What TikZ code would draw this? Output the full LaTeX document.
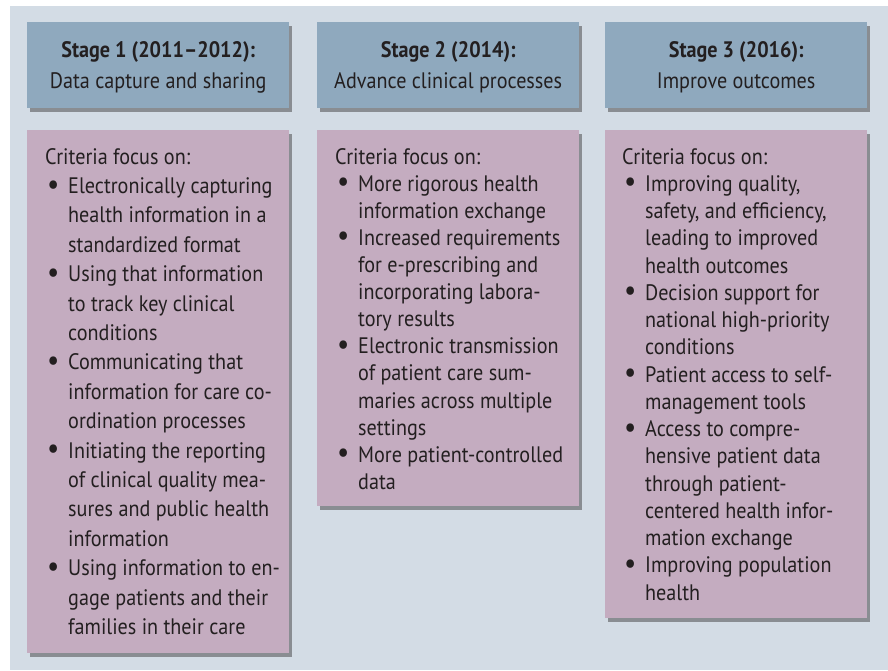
\documentclass[tikz,border=0pt]{standalone}
\usepackage{fontspec}
\setmainfont{PT Sans}[FakeStretch=0.9]
\usetikzlibrary{shadows}
\definecolor{bgcol}{RGB}{211,220,229}
\definecolor{hdcol}{RGB}{143,169,190}
\definecolor{crcol}{RGB}{196,172,192}
\definecolor{ink}{RGB}{35,31,32}
\newcommand{\itm}[1]{\makebox[23pt][l]{\hspace{2pt}\raisebox{-0.5pt}{\scalebox{1.35}{\textbullet}}}#1}
\newcommand{\cnt}[1]{\hspace*{23pt}#1}
\begin{document}
\begin{tikzpicture}[x=1pt,y=-1pt]
	\tikzset{box/.style={fill=#1, inner sep=0pt, anchor=north west, minimum width=262pt,
			drop shadow={shadow xshift=3pt, shadow yshift=-3.5pt, opacity=0.5, fill=black!75}},
		hdr/.style={inner sep=0pt, align=center, text=ink, font=\fontsize{22.4}{31}\selectfont},
		txt/.style={inner sep=0pt, anchor=north west, align=left, text=ink, font=\fontsize{22.4}{#1}\selectfont}};

	\useasboundingbox (0,0) rectangle (888,670);
	\fill[bgcol] (10,6) rectangle (888,670);

	\node[box=hdcol, minimum height=86pt] (h1) at (27,22) {};
	\node[box=hdcol, minimum height=86pt] (h2) at (317,22) {};
	\node[box=hdcol, minimum height=86pt] (h3) at (605,22) {};

	\node[hdr] (s1) at ([yshift=-2.5pt]h1.center) {\textbf{Stage 1 (2011–2012):}\\Data capture and sharing};
	\node[hdr] (s2) at ([yshift=-2.5pt]h2.center) {\textbf{Stage 2 (2014):}\\Advance clinical processes};
	\node[hdr] (s3) at ([yshift=-2.5pt]h3.center) {\textbf{Stage 3 (2016):}\\Improve outcomes};

	\node[box=crcol, minimum height=523pt] (c1) at (27,130) {};
	\node[box=crcol, minimum height=376pt] (c2) at (317,130) {};
	\node[box=crcol, minimum height=488pt] (c3) at (605,130) {};

	\node[txt=29.4pt] (t1) at (45,148) {Criteria focus on:\\
		\itm{Electronically capturing}\\
		\cnt{health information in a}\\
		\cnt{standardized format}\\
		\itm{Using that information}\\
		\cnt{to track key clinical}\\
		\cnt{conditions}\\
		\itm{Communicating that}\\
		\cnt{information for care co-}\\
		\cnt{ordination processes}\\
		\itm{Initiating the reporting}\\
		\cnt{of clinical quality mea-}\\
		\cnt{sures and public health}\\
		\cnt{information}\\
		\itm{Using information to en-}\\
		\cnt{gage patients and their}\\
		\cnt{families in their care}};

	\node[txt=27.1pt] (t2) at (335,148) {Criteria focus on:\\
		\itm{More rigorous health}\\
		\cnt{information exchange}\\
		\itm{Increased requirements}\\
		\cnt{for e-prescribing and}\\
		\cnt{incorporating labora-}\\
		\cnt{tory results}\\
		\itm{Electronic transmission}\\
		\cnt{of patient care sum-}\\
		\cnt{maries across multiple}\\
		\cnt{settings}\\
		\itm{More patient-controlled}\\
		\cnt{data}};

	\node[txt=27.25pt] (t3) at (622,148) {Criteria focus on:\\
		\itm{Improving quality,}\\
		\cnt{safety, and efficiency,}\\
		\cnt{leading to improved}\\
		\cnt{health outcomes}\\
		\itm{Decision support for}\\
		\cnt{national high-priority}\\
		\cnt{conditions}\\
		\itm{Patient access to self-}\\
		\cnt{management tools}\\
		\itm{Access to compre-}\\
		\cnt{hensive patient data}\\
		\cnt{through patient-}\\
		\cnt{centered health infor-}\\
		\cnt{mation exchange}\\
		\itm{Improving population}\\
		\cnt{health}};
\end{tikzpicture}
\end{document}
